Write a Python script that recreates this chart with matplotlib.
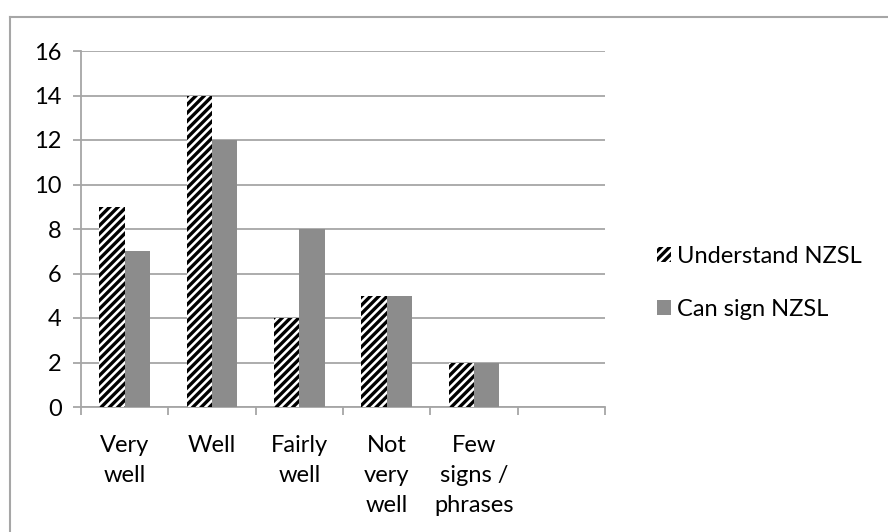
import matplotlib.pyplot as plt
from matplotlib.lines import Line2D
import numpy as np

# responses per category (last slot left empty)
categorias = ["Very\nwell", "Well", "Fairly\nwell", "Not\nvery\nwell", "Few\nsigns /\nphrases", ""]
understand = [9, 14, 4, 5, 2, 0]
can_sign = [7, 12, 8, 5, 2, 0]
series_names = ["Understand NZSL", "Can sign NZSL"]

plt.rcParams['font.family'] = ['Lato', 'DejaVu Sans']
plt.rcParams['hatch.linewidth'] = 2.4

gris_eje = "#a6a6a6"
gris_barra = "#8c8c8c"

fig = plt.figure(figsize=(8.88, 5.32), dpi=100)
ax = fig.add_axes([81 / 888, 1 - 407 / 532, (605 - 81) / 888, (407 - 51) / 532])

x = np.arange(len(categorias))
ancho = 0.29
b1 = ax.bar(x - ancho / 2, understand, ancho, facecolor="white", edgecolor="black",
            linewidth=0, hatch="////", label=series_names[0], zorder=3)
b2 = ax.bar(x + ancho / 2, can_sign, ancho, color=gris_barra, linewidth=0,
            label=series_names[1], zorder=3)

ax.set_xlim(-0.5, len(categorias) - 0.5)
ax.set_ylim(0, 16)
ax.set_yticks(range(0, 17, 2))
ax.yaxis.grid(True, color=gris_eje, linewidth=1.3, zorder=0)
ax.set_axisbelow(True)

# ticks sit between categories, labels centred on them
ax.set_xticks(np.arange(-0.5, len(categorias), 1.0))
ax.set_xticklabels([])
ax.set_xticks(x, minor=True)
ax.set_xticklabels(categorias, minor=True, fontsize=17, va="top", linespacing=1.55)
ax.tick_params(axis="x", which="minor", length=0, pad=20)
ax.tick_params(axis="x", which="major", length=6, width=1.3, color=gris_eje, direction="out")
ax.tick_params(axis="y", length=6, width=1.3, color=gris_eje, labelsize=17, pad=8)

for lado in ["top", "right"]:
    ax.spines[lado].set_visible(False)
for lado in ["left", "bottom"]:
    ax.spines[lado].set_color(gris_eje)
    ax.spines[lado].set_linewidth(1.3)

fig.legend(handles=[b1, b2], labels=series_names, loc="center left",
           bbox_to_anchor=(636 / 888, 1 - 283 / 532), frameon=False, fontsize=17,
           handlelength=0.6, handleheight=0.6, handletextpad=0.25, labelspacing=1.35)

# chart frame
fig.add_artist(Line2D([10 / 888, 10 / 888], [0, 1 - 17 / 532], color=gris_eje, linewidth=1.5,
                      transform=fig.transFigure))
fig.add_artist(Line2D([10 / 888, 1], [1 - 17 / 532, 1 - 17 / 532], color=gris_eje, linewidth=1.5,
                      transform=fig.transFigure))

fig.savefig("out.png", dpi=100)
